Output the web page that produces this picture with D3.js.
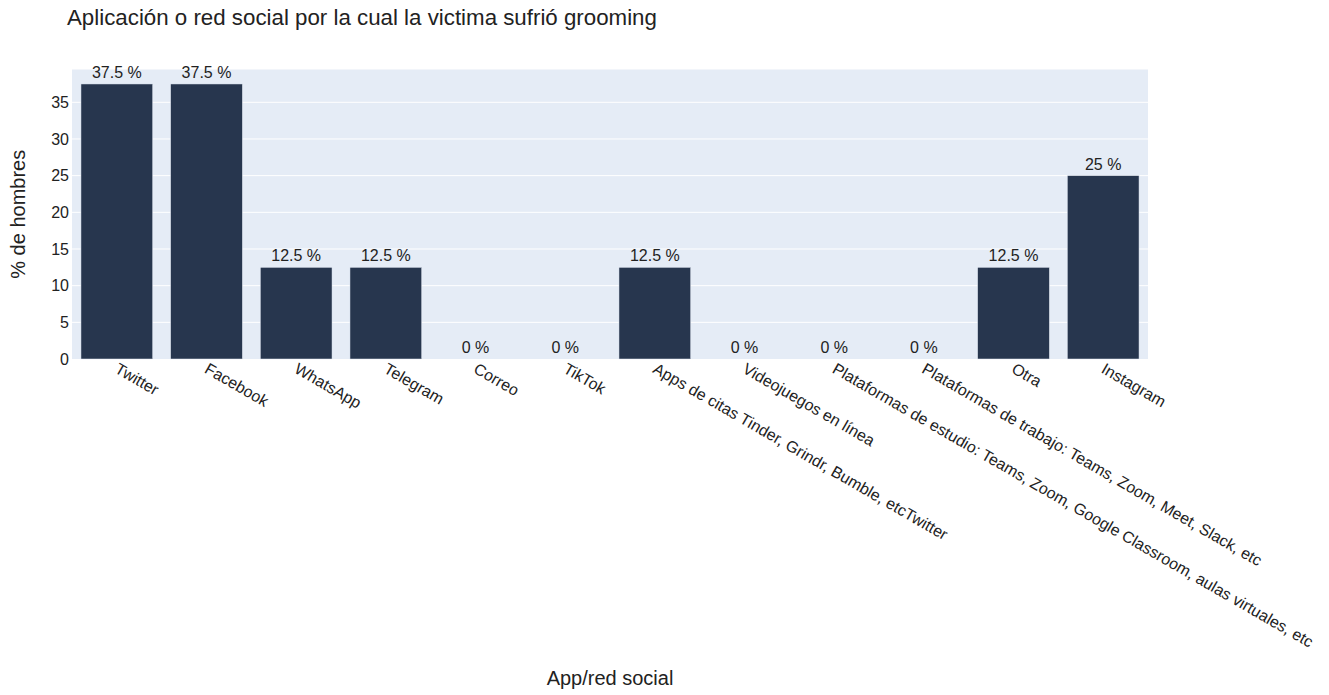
<!DOCTYPE html>
<html><head><meta charset="utf-8">
<script src="https://cdn.jsdelivr.net/npm/d3@7"></script>
<style>body{margin:0;background:#fff}svg{display:block;font-family:"Liberation Sans",Arial,sans-serif}</style>
</head><body><svg id="c" width="1329" height="695"></svg>
<script>
const categories = ["Twitter","Facebook","WhatsApp","Telegram","Correo","TikTok","Apps de citas Tinder, Grindr, Bumble, etcTwitter","Videojuegos en línea","Plataformas de estudio: Teams, Zoom, Google Classroom, aulas virtuales, etc","Plataformas de trabajo: Teams, Zoom, Meet, Slack, etc","Otra","Instagram"];
const values = [37.5,37.5,12.5,12.5,0,0,12.5,0,0,0,12.5,25];
const yTicks = [0,5,10,15,20,25,30,35];
const title = "Aplicación o red social por la cual la victima sufrió grooming";
const xTitle = "App/red social";
const yTitle = "% de hombres";

const FF = "Liberation Sans, Arial, sans-serif";
const svg = d3.select("#c");
const L = 72, R = 1148, T = 69.5, B = 359;
const x = d3.scaleBand().domain(categories).range([L, R]).paddingInner(0.2).paddingOuter(0.1);
const y = d3.scaleLinear().domain([0, 37.5*1.0526]).range([B, T]);

svg.append("rect").attr("x", L).attr("y", T).attr("width", R-L).attr("height", B-T).attr("fill", "#e5ecf6");
svg.append("g").selectAll("line").data(yTicks.filter(d=>d>0)).join("line")
  .attr("x1", L).attr("x2", R).attr("y1", d=>y(d)).attr("y2", d=>y(d))
  .attr("stroke", "#fff").attr("stroke-width", 1);

const yAxis = svg.append("g").attr("transform", `translate(${L},0)`).call(d3.axisLeft(y).tickValues(yTicks).tickSize(0).tickPadding(3));
yAxis.attr("font-family", FF);
yAxis.select(".domain").remove();
yAxis.selectAll("text").attr("font-size", 16).attr("fill", "#222");

svg.append("g").selectAll("rect").data(values).join("rect")
  .attr("x", (d,i)=>x(categories[i])).attr("width", x.bandwidth())
  .attr("y", d=>y(d)).attr("height", d=>B-y(d))
  .attr("fill", "#27364e").attr("stroke", "#e5ecf6").attr("stroke-width", 0.5);

svg.append("g").selectAll("text").data(values).join("text")
  .attr("x", (d,i)=>x(categories[i])+x.bandwidth()/2).attr("y", d=>y(d)-6)
  .attr("text-anchor","middle").attr("font-size",16).attr("fill","#222")
  .text(d=>d+" %");

const xAxis = svg.append("g").attr("transform", `translate(0,${B})`).call(d3.axisBottom(x).tickSize(0).tickPadding(0));
xAxis.attr("font-family", FF);
xAxis.select(".domain").remove();
xAxis.selectAll("text")
  .attr("font-size", 16).attr("fill", "#222")
  .attr("text-anchor","start").attr("dy", null).attr("y", 0)
  .attr("transform","translate(-3,13) rotate(30)");

svg.append("text").attr("x", 67).attr("y", 25).attr("font-size", 22.3).attr("fill","#222").text(title);
svg.append("text").attr("x", (L+R)/2).attr("y", 685).attr("text-anchor","middle").attr("font-size",20).attr("fill","#222").text(xTitle);
svg.append("text").attr("transform", `translate(25,${(T+B)/2}) rotate(-90)`).attr("text-anchor","middle").attr("font-size",20).attr("fill","#222").text(yTitle);
</script></body></html>
